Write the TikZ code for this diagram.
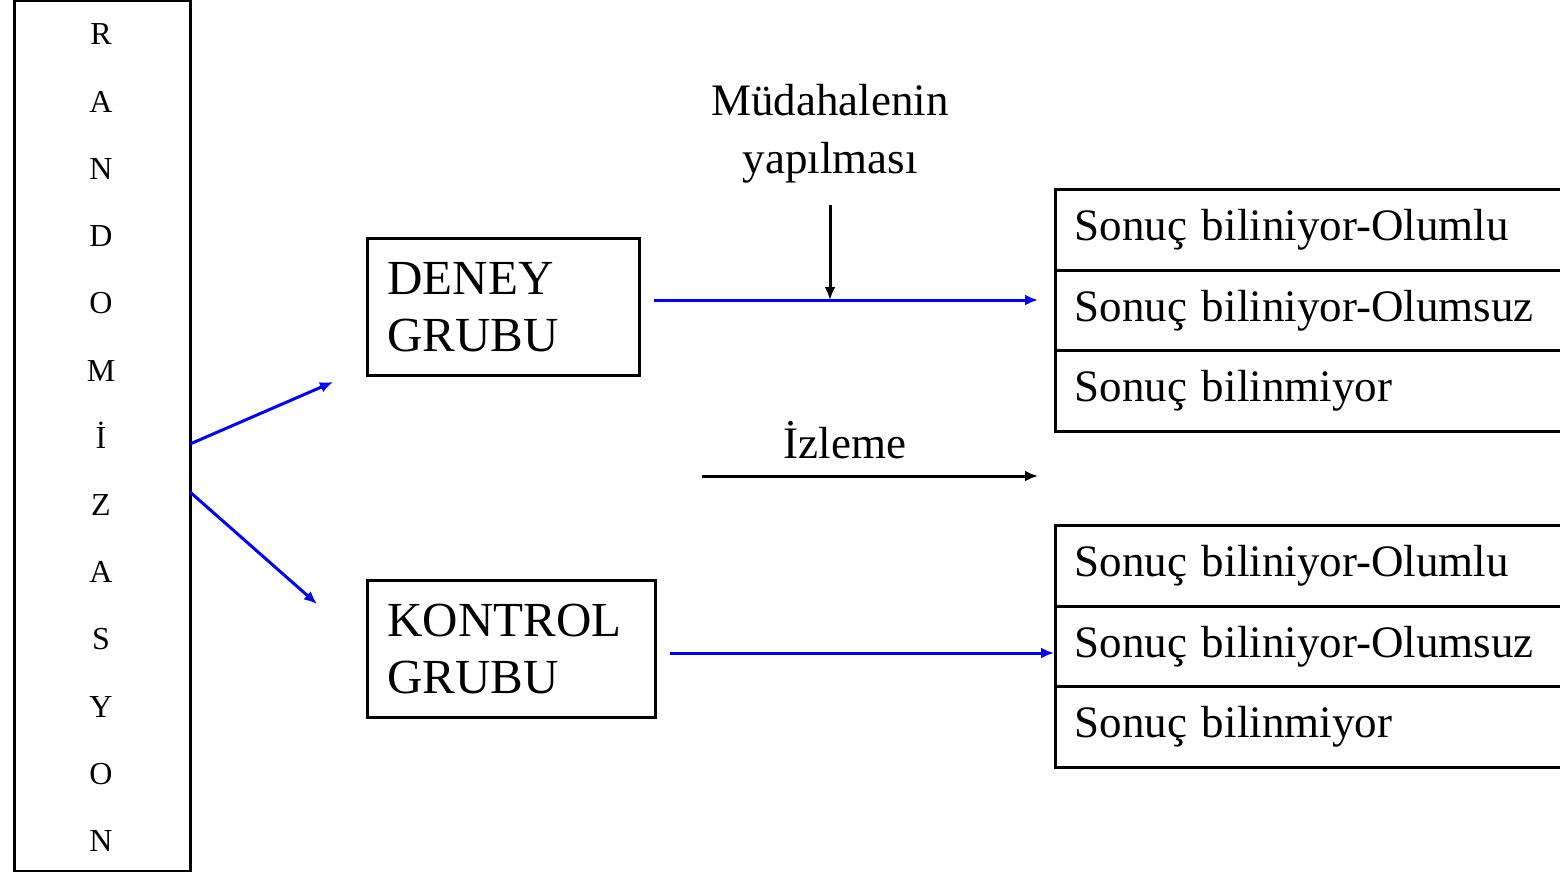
\documentclass[tikz,border=0pt]{standalone}
\usepackage{fontspec}
\setmainfont{Liberation Serif}
\usetikzlibrary{arrows.meta}

\begin{document}
\begin{tikzpicture}[x=1pt,y=-1pt,
  harf/.style={anchor=base, font=\fontsize{32}{38}\selectfont},
  grup/.style={draw, line width=3pt, inner xsep=20pt, align=left, anchor=north west,
    minimum height=137pt, font=\fontsize{49}{57}\selectfont},
  sonuc/.style={draw, line width=3pt, minimum height=80.5pt, text width=482pt,
    inner xsep=19pt, anchor=north west, font=\fontsize{45}{54}\selectfont},
  yazi/.style={align=center, font=\fontsize{45}{58}\selectfont},
  mavi/.style={blue, line width=3pt, -{Latex[length=13pt,width=11pt]}},
  siyah/.style={black, line width=3pt, -{Latex[length=13pt,width=11pt]}}]

  \useasboundingbox (0,0) rectangle (1560,872);

  % randomizasyon kutusu
  \node [draw, line width=3pt, minimum width=176pt, minimum height=870pt] (rand) at (102,436) {};
  \foreach \h [count=\i] in {R,A,N,D,O,M,İ,Z,A,S,Y,O,N}
    \node [harf] (h\i) at (101,{45+67.2*(\i-1)}) {\h};

  % gruplar
  \node [grup, text width=232pt] (deney) at (366,237) {DENEY\\GRUBU};
  \node [grup, text width=248pt] (kontrol) at (366,579) {KONTROL\\GRUBU};

  % randomizasyon oklari
  \coordinate (r1) at (190,444);
  \coordinate (r2) at (190,492);
  \coordinate (g1) at (333,382);
  \coordinate (g2) at (317,604);
  \draw [mavi] (r1) -- (g1);
  \draw [mavi] (r2) -- (g2);

  % sonuclar (deney)
  \node [sonuc] (s1) at (1054,188) {Sonuç biliniyor-Olumlu};
  \node [sonuc] (s2) at (1054,268.5) {Sonuç biliniyor-Olumsuz};
  \node [sonuc] (s3) at (1054,349) {Sonuç bilinmiyor};

  % sonuclar (kontrol)
  \node [sonuc] (k1) at (1054,524) {Sonuç biliniyor-Olumlu};
  \node [sonuc] (k2) at (1054,604.5) {Sonuç biliniyor-Olumsuz};
  \node [sonuc] (k3) at (1054,685) {Sonuç bilinmiyor};

  % mudahale
  \node [yazi] (mud) at (830,134) {Müdahalenin\\yapılması};
  \coordinate (m0) at (830,205);
  \coordinate (d0) at (654,300);
  \coordinate (d1) at (1038,300);
  \draw [mavi] (d0) -- (d1);
  \draw [siyah] (m0) -- (m0 |- d0);

  % izleme
  \node [yazi] (izle) at (845,440) {İzleme};
  \coordinate (i0) at (702,476);
  \coordinate (i1) at (1038,476);
  \draw [siyah] (i0) -- (i1);

  % kontrol oku
  \coordinate (c0) at (670,653);
  \draw [mavi] (c0) -- (c0 -| k2.west);

\end{tikzpicture}
\end{document}
